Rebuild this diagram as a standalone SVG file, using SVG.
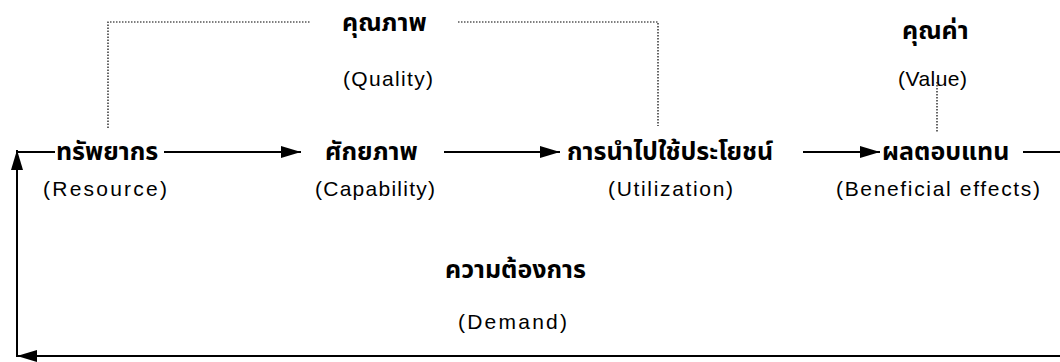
<svg xmlns="http://www.w3.org/2000/svg" width="1060" height="362" viewBox="0 0 1060 362">
<style>
.th{font-family:"Noto Sans Thai","Noto Sans","DejaVu Sans","Liberation Sans",sans-serif;font-size:25px;font-weight:bold;fill:#000}
.en{font-family:"Liberation Sans",Arial,sans-serif;font-size:21px;fill:#000}
.ln{stroke:#000;stroke-width:2;fill:none}
.dt{stroke:#000;stroke-width:1.2;stroke-dasharray:1.5 1.5;fill:none}
</style>
<defs>
<marker id="ah" viewBox="0 0 20 12" refX="20" refY="6" markerWidth="20" markerHeight="12" markerUnits="userSpaceOnUse" orient="auto">
<path d="M0,0 L20,6 L0,12 z" fill="#000"/>
</marker>
</defs>
<rect width="1060" height="362" fill="#fff"/>
<g id="connectors">
<line class="ln" x1="164" y1="152" x2="301" y2="152" marker-end="url(#ah)"/>
<line class="ln" x1="444" y1="152" x2="560" y2="152" marker-end="url(#ah)"/>
<line class="ln" x1="803" y1="152" x2="880" y2="152" marker-end="url(#ah)"/>
<line class="ln" x1="1023" y1="152" x2="1060" y2="152"/>
<line class="ln" x1="1060" y1="356" x2="17" y2="356" marker-end="url(#ah)"/>
<line class="ln" x1="17" y1="357" x2="17" y2="150" marker-end="url(#ah)"/>
<line class="ln" x1="17" y1="152" x2="55" y2="152"/>
<polyline class="dt" points="108,128 108,22 310,22"/>
<polyline class="dt" points="458,22 658,22 658,126"/>
<line class="dt" x1="937" y1="82" x2="937" y2="132"/>
</g>
<g id="resource">
<text class="th" x="56" y="160">ทรัพยากร</text>
<text class="en" x="43" y="196" textLength="124" lengthAdjust="spacing">(Resource)</text>
</g>
<g id="capability">
<text class="th" x="325" y="160">ศักยภาพ</text>
<text class="en" x="315" y="196" textLength="120" lengthAdjust="spacing">(Capability)</text>
</g>
<g id="utilization">
<text class="th" x="567" y="160">การนำไปใช้ประโยชน์</text>
<text class="en" x="608" y="196" textLength="125" lengthAdjust="spacing">(Utilization)</text>
</g>
<g id="beneficial">
<text class="th" x="882" y="160">ผลตอบแทน</text>
<text class="en" x="836" y="196" textLength="204" lengthAdjust="spacing">(Beneficial effects)</text>
</g>
<g id="quality">
<text class="th" x="342" y="31">คุณภาพ</text>
<text class="en" x="343" y="86" textLength="90" lengthAdjust="spacing">(Quality)</text>
</g>
<g id="value">
<text class="th" x="902" y="39">คุณค่า</text>
<text class="en" x="898" y="86" textLength="69" lengthAdjust="spacing">(Value)</text>
</g>
<g id="demand">
<text class="th" x="445" y="278">ความต้องการ</text>
<text class="en" x="458" y="329" textLength="109" lengthAdjust="spacing">(Demand)</text>
</g>
</svg>
